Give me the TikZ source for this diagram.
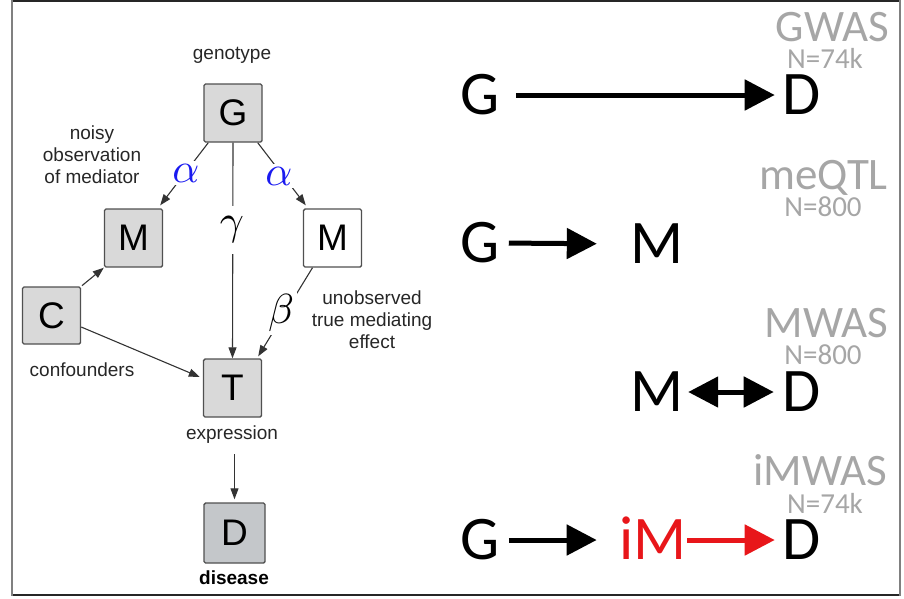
\documentclass[tikz,border=0pt]{standalone}
\usepackage{fontspec}
\setmainfont{Liberation Sans}
\newfontfamily\calib{Carlito}
\usetikzlibrary{arrows.meta}

\definecolor{boxgray}{HTML}{D9D9D9}
\definecolor{boxgrayD}{HTML}{C4C7CA}
\definecolor{edgegray}{HTML}{505050}
\definecolor{labelgray}{HTML}{A6A6A6}
\definecolor{greekblue}{HTML}{1A1AF0}
\definecolor{imred}{HTML}{E8161A}
\definecolor{framegray}{HTML}{808080}

\tikzset{
  var/.style={draw=edgegray, line width=1.4pt, fill=boxgray, rounded corners=1.5pt,
    minimum width=58pt, minimum height=58pt, inner sep=0pt,
    font=\fontsize{37}{40}\selectfont},
  lbl/.style={font=\fontsize{19}{22}\selectfont, align=center, inner sep=0pt, text=black!85},
  edge/.style={draw=black!80, line width=1.1pt, -{Triangle[length=11pt,width=8pt]}},
  greek/.style={fill=white, inner sep=0.8pt, scale=4.2},
  big/.style={font=\calib\fontsize{62}{62}\selectfont, inner sep=0pt, anchor=base,
    text height=40pt, text depth=2pt},
  study/.style={font=\calib\fontsize{45}{45}\selectfont, text=labelgray, inner sep=0pt,
    anchor=base east, text depth=0pt},
  samplesize/.style={font=\calib\fontsize{29}{29}\selectfont, text=labelgray, inner sep=0pt,
    anchor=base, text height=19pt, text depth=0pt},
  fat arrow/.style={line width=5pt, -{Triangle[length=30pt,width=30pt]}},
}

\begin{document}
\begin{tikzpicture}[x=1pt, y=-1pt]
\useasboundingbox (0,0) rectangle (904,598);

% frame
\draw[line width=1.5pt, black!85] (12,1) -- (900,1);
\draw[line width=1.5pt, black!85] (12,595) -- (900,595);
\draw[line width=2.5pt, framegray] (12,0) -- (12,596);
\draw[line width=2.5pt, framegray] (900,0) -- (900,596);

% ---- mediation model ----
\node[var] (G)  at (233,113) {G};
\node[var] (ML) at (133.5,238) {M};
\node[var, fill=white] (MR) at (332.5,238) {M};
\node[var, minimum height=57pt] (C) at (51.5,315.5) {C};
\node[var] (T)  at (232.5,388) {T};
\node[var, fill=boxgrayD, minimum width=61pt, minimum height=60pt] (D) at (234.5,533) {D};

\node[lbl] (geno) at (232,55) {genotype};
\node[lbl] (noisy) at (92,155) {noisy\\observation\\of mediator};
\node[lbl] (unobs) at (372,320) {unobserved\\true mediating\\effect};
\node[lbl] (conf) at (82,370) {confounders};
\node[lbl] (expr) at (232,435) {expression};
\node[lbl, font=\bfseries\fontsize{19}{22}\selectfont, text=black] (dis) at (234,578) {disease};

\draw[edge] ([xshift=5pt]G.south west) -- ([xshift=-3pt,yshift=3pt]ML.north east);
\draw[edge] ([xshift=-5pt]G.south east) -- ([xshift=3pt,yshift=3pt]MR.north west);
\draw[edge] (G.south) -- (T.north);
\draw[edge, shorten <=1pt] (C.north east) -- (ML.south west);
\draw[edge] ([xshift=-20pt]MR.south) -- ([xshift=-4pt,yshift=2pt]T.north east);
\draw[edge] ([yshift=-11.5pt]C.east) -- ([xshift=-3pt,yshift=11pt]T.west);
\draw[edge, shorten <=10pt, shorten >=3pt] (expr.south -| D.north) -- (D.north);

\node[greek, text=greekblue] (a1) at (186,173) {$\alpha$};
\node[greek, text=greekblue] (a2) at (279,176) {$\alpha$};
\node[greek, inner ysep=2.5pt] (gam) at (232,230) {$\gamma$};
\node[greek] (bet) at (281,313) {$\beta$};

% ---- study designs ----
\node[study] (gwas) at (889,41) {GWAS};
\node[samplesize] (ngwas) at (825,68) {N=74k};
\node[study] (meqtl) at (888,189) {meQTL};
\node[samplesize] (nmeqtl) at (823,216) {N=800};
\node[study] (mwas) at (888,337) {MWAS};
\node[samplesize] (nmwas) at (823,364) {N=800};
\node[study] (imwas) at (887,485) {iMWAS};
\node[samplesize] (nimwas) at (825,513) {N=74k};

\node[big] (G1) at (480,114) {G};
\node[big] (D1) at (802,114) {D};
\draw[fat arrow, shorten <=16pt, shorten >=8pt] (G1.east) -- (D1.west);

\node[big] (G2) at (480,262) {G};
\node[big] (M2) at (657,263) {M};
\draw[fat arrow, shorten <=9pt, shorten >=33.5pt] (G2.east) -- (M2.west);

\node[big] (M3) at (657,411) {M};
\node[big] (D3) at (802,411) {D};
\draw[fat arrow, {Triangle[length=30pt,width=30pt]}-{Triangle[length=30pt,width=30pt]},
  shorten <=4.5pt, shorten >=9pt] (M3.east) -- (D3.west);

\node[big] (G4) at (480,559) {G};
\node[big, text=imred] (iM) at (653,559) {iM};
\node[big] (D4) at (802,559) {D};
\draw[fat arrow, shorten <=9pt, shorten >=22.5pt] (G4.east) -- (iM.west);
\draw[fat arrow, draw=imred, fill=imred, shorten <=0.5pt, shorten >=8pt] (iM.east) -- (D4.west);
\end{tikzpicture}
\end{document}
